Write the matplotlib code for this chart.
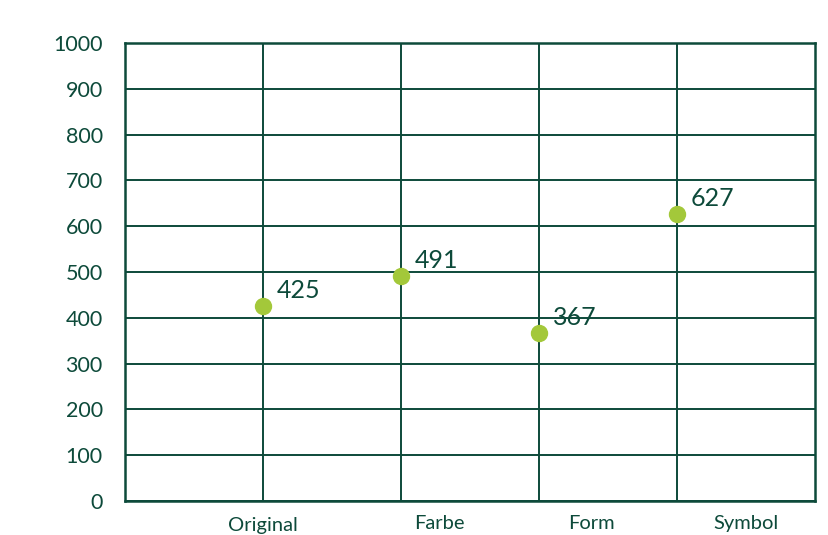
import matplotlib
matplotlib.use("Agg")
import matplotlib.pyplot as plt

categories = ["Original", "Farbe", "Form", "Symbol"]
values = [425, 491, 367, 627]
y_ticks = [0, 100, 200, 300, 400, 500, 600, 700, 800, 900, 1000]

# label placement below the plot (x in data units, y in axes fraction)
label_x = [1.0, 2.28, 3.38, 4.5]
label_y = [-0.036, -0.030, -0.030, -0.030]

dark = "#0d4a3a"
dot = "#a3c83a"

plt.rcParams["font.family"] = ["Lato", "DejaVu Sans"]

fig = plt.figure(figsize=(8.29, 5.35), dpi=100)
ax = fig.add_axes([125 / 829, 1 - 501 / 535, 690 / 829, 458 / 535])

xs = list(range(1, len(categories) + 1))
ax.set_xlim(0, len(categories) + 1)
ax.set_ylim(0, 1000)

ax.set_yticks(y_ticks)
ax.set_yticklabels([str(t) for t in y_ticks], fontsize=15.5, color=dark)
ax.set_xticks(xs)
ax.set_xticklabels([])
ax.tick_params(axis="both", length=0)
ax.tick_params(axis="y", pad=16)

ax.grid(True, color=dark, linewidth=1.4)
ax.set_axisbelow(True)
for s in ax.spines.values():
    s.set_color(dark)
    s.set_linewidth(1.8)

ax.plot(xs, values, linestyle="none", marker="o", markersize=11.5,
        color=dot, zorder=3, clip_on=False)

for x, v in zip(xs, values):
    ax.annotate(str(v), (x, v), xytext=(10, 6), textcoords="offset points",
                ha="left", va="baseline", fontsize=18, color=dark)

for name, lx, ly in zip(categories, label_x, label_y):
    ax.text(lx, ly, name, transform=ax.get_xaxis_transform(), ha="center",
            va="top", fontsize=14.5, color=dark, clip_on=False)

fig.savefig("out.png", dpi=100)
